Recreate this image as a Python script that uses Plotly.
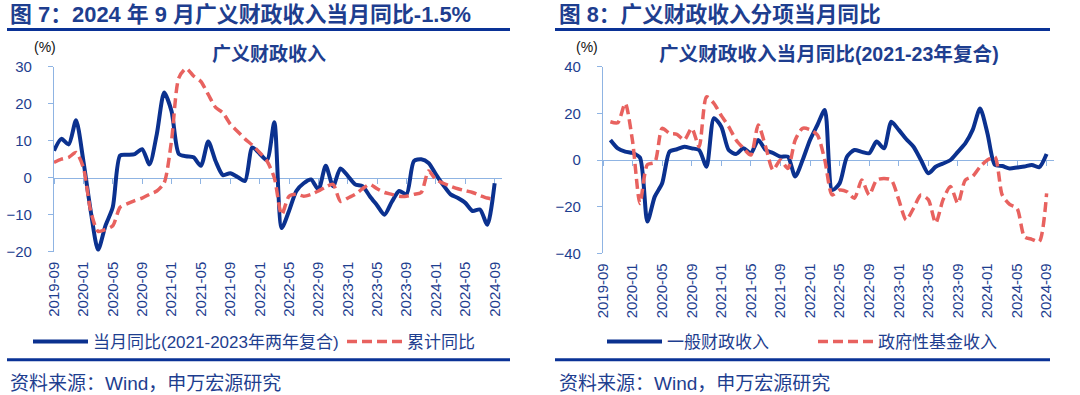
import plotly.graph_objects as go
import pandas as pd

# ---------------- data ----------------
months = [p.strftime("%Y-%m") for p in pd.period_range("2019-09", "2024-09", freq="M")]
tick_labels = ["2019-09", "2020-01", "2020-05", "2020-09", "2021-01", "2021-05",
               "2021-09", "2022-01", "2022-05", "2022-09", "2023-01", "2023-05",
               "2023-09", "2024-01", "2024-05", "2024-09"]

# Fig 7: broad fiscal revenue (2019-09 .. 2024-09)
broad_monthly_yoy = [7.3, 10.5, 9.0, 15.5, 4.5, -9.0, -19.5, -13.0, -8.0, 6.0,
                     6.2, 6.4, 7.7, 3.6, 11.8, 23.0, 18.0, 6.4, 5.8, 5.5,
                     3.2, 9.8, 4.5, 0.7, 1.2, 0.2, -0.9, 8.2, 6.5, 4.7,
                     15.0, -13.6, -9.0, -3.6, -1.5, -0.5, -3.2, 3.2, -2.3, 2.5,
                     0.5, -1.8, -2.3, -5.0, -7.5, -10.0, -6.5, -3.6, -4.5, 4.5,
                     5.0, 4.0, 0.9, -2.0, -4.5, -5.5, -6.8, -9.0, -8.6, -12.7, -1.5]
broad_cumulative_yoy = [4.1, 5.0, 5.5, 6.8, 2.7, -9.0, -14.5, -14.0, -13.0, -8.0,
                        -7.0, -6.2, -5.5, -4.5, -3.6, -1.4, 10.0, 27.0, 29.5, 27.5,
                        26.0, 22.5, 19.0, 17.5, 14.5, 12.5, 10.5, 8.8, 6.8, 4.5,
                        0.0, -10.0, -5.0, -4.5, -5.0, -4.5, -3.6, -2.5, -1.8, -6.4,
                        -5.5, -4.5, -3.0, -1.8, -3.0, -4.0, -4.5, -5.0, -5.0, -4.5,
                        -4.0, 1.8, -0.5, -1.5, -2.3, -3.0, -3.5, -4.0, -4.8, -5.5, -5.9]

# Fig 8: components (2019-10 .. 2024-09)
months_r = months[1:]
general_budget_yoy = [8.6, 5.0, 3.6, 3.0, 1.0, -26.4, -15.7, -10.0, 3.6, 4.6,
                      5.7, 5.0, 4.3, -2.9, 17.9, 14.3, 4.3, 2.6, 5.0, 2.9,
                      8.6, 4.3, 3.0, 1.4, 1.4, -7.1, 0.0, 8.6, 15.0, 21.4,
                      -12.9, -10.0, 1.4, 4.3, 3.5, 2.9, 7.9, 5.0, 16.4, 12.9,
                      9.0, 5.7, 0.0, -5.7, -2.9, -1.5, 0.0, 3.5, 7.1, 12.9,
                      22.1, 11.4, -2.1, -2.6, -3.6, -3.2, -2.8, -2.1, -3.1, 2.6]
gov_fund_yoy = [16.4, 16.0, 24.3, 8.0, -18.6, -2.0, -1.0, 13.6, 11.4, 11.0,
                8.6, 13.6, 5.7, 27.1, 24.3, 19.0, 14.3, 8.6, 5.0, 2.1,
                15.0, 5.7, -4.3, 0.0, -3.6, 8.6, 13.6, 13.0, 10.7, 0.0,
                -15.0, -12.9, -13.6, -16.4, -8.6, -15.0, -8.6, -7.9, -8.6, -17.0,
                -25.7, -20.7, -15.0, -17.0, -27.0, -17.0, -11.4, -18.6, -8.6, -7.0,
                -2.9, 0.0, 1.4, -15.0, -19.0, -20.7, -32.9, -34.0, -35.0, -14.3]

# ---------------- style ----------------
FW, FH = 1080, 395
FONT = "Liberation Sans, Arial, Noto Sans CJK SC, sans-serif"
TXT = "#1E3E8F"
RULE = "#0A3296"
BLUE = "#0B318F"
RED = "#E8625F"
AX = "#8FB4E3"


def px(x):
    return x / FW


def py(y):
    return 1 - y / FH


L_DOM = [px(54), px(502)]
R_DOM = [px(603), px(1054)]
L_Y = [py(251.7), py(66.7)]
R_Y = [py(253.3), py(66.7)]
L_ZERO = L_Y[0] + (0 - (-20)) / 50 * (L_Y[1] - L_Y[0])
R_ZERO = R_Y[0] + 0.5 * (R_Y[1] - R_Y[0])

fig = go.Figure()
fig.add_trace(go.Scatter(x=months, y=broad_monthly_yoy, name="当月同比(2021-2023年两年复合)",
                         mode="lines", line=dict(color=BLUE, width=4, shape="spline", smoothing=0.7),
                         xaxis="x", yaxis="y", legend="legend", hoverinfo="skip"))
fig.add_trace(go.Scatter(x=months, y=broad_cumulative_yoy, name="累计同比",
                         mode="lines", line=dict(color=RED, width=3.5, dash="10px,5px", shape="spline", smoothing=0.7),
                         xaxis="x3", yaxis="y", legend="legend", hoverinfo="skip"))
fig.add_trace(go.Scatter(x=months_r, y=general_budget_yoy, name="一般财政收入",
                         mode="lines", line=dict(color=BLUE, width=4, shape="spline", smoothing=0.7),
                         xaxis="x2", yaxis="y2", legend="legend2", hoverinfo="skip"))
fig.add_trace(go.Scatter(x=months_r, y=gov_fund_yoy, name="政府性基金收入",
                         mode="lines", line=dict(color=RED, width=3.5, dash="10px,5px", shape="spline", smoothing=0.7),
                         xaxis="x4", yaxis="y2", legend="legend2", hoverinfo="skip"))

xcommon = dict(type="category", categoryorder="array", categoryarray=months, range=[0, 61],
               tickmode="array", tickvals=tick_labels, showgrid=False, zeroline=False, automargin=False)
label_axis = dict(xcommon, ticks="", showline=False, tickangle=-90,
                  tickfont=dict(size=15, color=TXT), ticklabelstandoff=6)
zero_axis = dict(xcommon, anchor="free", showline=True, linecolor=AX, linewidth=1.3,
                 ticks="outside", ticklen=5, tickcolor=AX, showticklabels=False, layer="below traces")
ycommon = dict(showline=True, linecolor=AX, linewidth=1.3, ticks="outside", ticklen=5, tickcolor=AX,
               showgrid=False, zeroline=False, tickfont=dict(size=15, color=TXT), ticklabelstandoff=13,
               layer="below traces", automargin=False)

fig.update_layout(
    width=FW, height=FH, margin=dict(l=0, r=0, t=0, b=0, autoexpand=False),
    paper_bgcolor="white", plot_bgcolor="rgba(0,0,0,0)",
    font=dict(family=FONT, color=TXT),
    xaxis=dict(label_axis, domain=L_DOM, anchor="y"),
    xaxis3=dict(zero_axis, overlaying="x", position=L_ZERO),
    yaxis=dict(ycommon, domain=L_Y, anchor="x", range=[-20, 30], tick0=0, dtick=10),
    xaxis2=dict(label_axis, domain=R_DOM, anchor="y2"),
    xaxis4=dict(zero_axis, overlaying="x2", position=R_ZERO),
    yaxis2=dict(ycommon, domain=R_Y, anchor="x2", range=[-40, 40], tick0=0, dtick=20),
    legend=dict(orientation="h", x=px(28), y=py(342), xanchor="left", yanchor="middle",
                font=dict(size=17, color=TXT), bgcolor="rgba(0,0,0,0)", itemwidth=55,
                entrywidthmode="pixels", entrywidth=244),
    legend2=dict(orientation="h", x=px(602), y=py(342), xanchor="left", yanchor="middle",
                 font=dict(size=17, color=TXT), bgcolor="rgba(0,0,0,0)", itemwidth=55,
                 entrywidthmode="pixels", entrywidth=141),
    showlegend=True,
)

ann = [
    dict(text="图 7：2024 年 9 月广义财政收入当月同比-1.5%", x=px(8), y=py(14.5), xanchor="left",
         font=dict(size=21.9, color=TXT, weight="bold")),
    dict(text="图 8：广义财政收入分项当月同比", x=px(557), y=py(14.5), xanchor="left",
         font=dict(size=21.7, color=TXT, weight="bold")),
    dict(text="广义财政收入", x=px(269), y=py(54), xanchor="center",
         font=dict(size=19, color=TXT, weight="bold")),
    dict(text="广义财政收入当月同比(2021-23年复合)", x=px(829), y=py(54), xanchor="center",
         font=dict(size=19.6, color=TXT, weight="bold")),
    dict(text="(%)", x=px(45), y=py(47), xanchor="center", font=dict(size=14, color="#111111")),
    dict(text="(%)", x=px(587), y=py(47), xanchor="center", font=dict(size=14, color="#111111")),
    dict(text="资料来源：Wind，申万宏源研究", x=px(8), y=py(383), xanchor="left",
         font=dict(size=19, color=TXT)),
    dict(text="资料来源：Wind，申万宏源研究", x=px(557), y=py(383), xanchor="left",
         font=dict(size=19, color=TXT)),
]
for a in ann:
    a.update(xref="paper", yref="paper", yanchor="middle", showarrow=False)
fig.update_layout(annotations=ann)

shapes = []
for (x0, x1) in [(7, 510), (555, 1050)]:
    for yy in (29.5, 359.7):
        shapes.append(dict(type="line", xref="paper", yref="paper", x0=px(x0), x1=px(x1),
                           y0=py(yy), y1=py(yy), line=dict(color=RULE, width=3)))
fig.update_layout(shapes=shapes)

fig.write_html("out.html", config={"displayModeBar": False},
               post_script="document.body.style.margin='0';document.body.style.overflow='hidden';")
